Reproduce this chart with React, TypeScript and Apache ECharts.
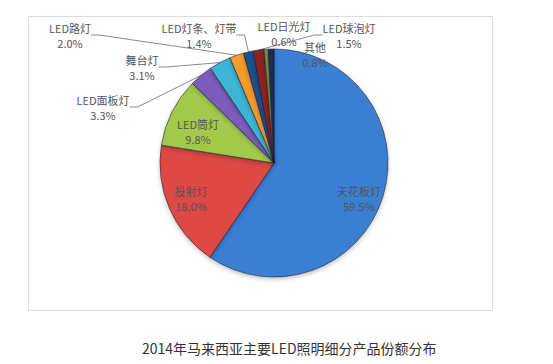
import React, { useEffect, useRef } from "react";
import * as echarts from "echarts";

const categories = [
  "天花板灯",
  "投射灯",
  "LED筒灯",
  "LED面板灯",
  "舞台灯",
  "LED路灯",
  "LED灯条、灯带",
  "LED球泡灯",
  "LED日光灯",
  "其他",
];
const shares = [59.5, 18.0, 9.8, 3.3, 3.1, 2.0, 1.4, 1.5, 0.6, 0.8];
const title = "2014年马来西亚主要LED照明细分产品份额分布";

const colors = [
  "#3b7fd3",
  "#de4a45",
  "#a3c94c",
  "#7d5cbd",
  "#3db6d6",
  "#f39b2e",
  "#1f4f8c",
  "#8e2323",
  "#7c8a3c",
  "#1c2b5c",
];
// label centre positions (px) for each slice
const labelPos: [number, number][] = [
  [359, 198],
  [191, 198],
  [198, 131],
  [103, 107],
  [142, 67],
  [70, 35],
  [199, 35],
  [349, 35],
  [284, 33],
  [315, 54],
];
const insideIdx = [0, 1, 2, 9];
const noLineIdx = [8];

export default function App() {
  const ref = useRef<HTMLDivElement>(null);
  useEffect(() => {
    if (!ref.current) return;
    const chart = echarts.init(ref.current, undefined, { renderer: "svg" });
    const data = categories.map((name, i) => {
      const inside = insideIdx.includes(i);
      return {
        name,
        value: shares[i],
        itemStyle: { color: colors[i] },
        label: { position: inside ? "inside" : "outside" },
        labelLine: { show: !inside && !noLineIdx.includes(i) },
      };
    });
    chart.setOption({
      animation: false,
      backgroundColor: "#ffffff",
      graphic: [
        {
          type: "rect",
          shape: { x: 28.5, y: 16.5, width: 464, height: 294 },
          style: { fill: "none", stroke: "#dcdcdc", lineWidth: 1 },
          z: 0,
        },
        {
          type: "text",
          left: 142,
          top: 341,
          style: {
            text: title,
            font: '14px "Noto Sans CJK SC", sans-serif',
            fill: "#333333",
          },
        },
      ],
      series: [
        {
          type: "pie",
          center: [274, 163],
          radius: 114,
          startAngle: 90,
          clockwise: true,
          avoidLabelOverlap: false,
          itemStyle: {
            borderColor: "rgba(20,30,50,0.55)",
            borderWidth: 1,
            shadowBlur: 4,
            shadowColor: "rgba(0,0,0,0.25)",
            shadowOffsetY: 2,
          },
          label: {
            formatter: (p: any) => `${p.name}\n${Number(p.value).toFixed(1)}%`,
            fontFamily: '"Noto Sans CJK SC", sans-serif',
            fontSize: 11,
            lineHeight: 15,
            color: "#555555",
            align: "center",
          },
          labelLine: {
            length: 10,
            length2: 8,
            lineStyle: { color: "#8a8a8a", width: 1 },
          },
          labelLayout: (params: any) => {
            const p = labelPos[params.dataIndex];
            return {
              x: p[0],
              y: p[1],
              align: "center",
              verticalAlign: "middle",
            };
          },
          data,
        },
      ],
    });
    return () => chart.dispose();
  }, []);
  return (
    <div
      ref={ref}
      style={{ position: "fixed", left: 0, top: 0, width: 553, height: 364 }}
    />
  );
}
